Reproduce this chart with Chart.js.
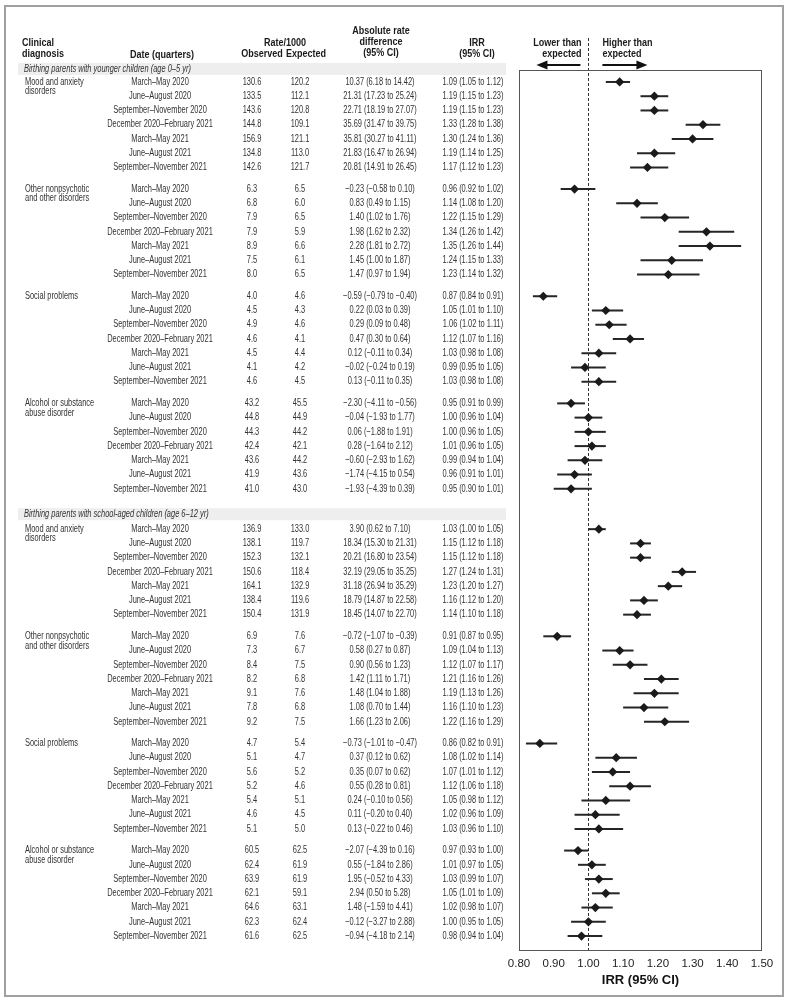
<!DOCTYPE html>
<html>
<head>
<meta charset="utf-8">
<script src="https://cdn.jsdelivr.net/npm/chart.js@4.4.0/dist/chart.umd.min.js"></script>
<style>
  html, body { margin: 0; padding: 0; background: #fff; }
  #wrap { position: relative; width: 791px; height: 1006px; }
</style>
</head>
<body>
<div id="wrap"><canvas id="forest"></canvas></div>
<script>
const quarters = ['March\u2013May 2020', 'June\u2013August 2020', 'September\u2013November 2020',
  'December 2020\u2013February 2021', 'March\u2013May 2021', 'June\u2013August 2021', 'September\u2013November 2021'];
const groupTitles = ['Birthing parents with younger children (age 0\u20135 yr)',
  'Birthing parents with school-aged children (age 6\u201312 yr)'];
const diagnoses = [['Mood and anxiety', 'disorders'], ['Other nonpsychotic', 'and other disorders'],
  ['Social problems'], ['Alcohol or substance', 'abuse disorder']];

// one inner array per block: younger children (4 diagnoses), then school-aged (4 diagnoses)
const observed = [
  [130.6, 133.5, 143.6, 144.8, 156.9, 134.8, 142.6],
  [6.3, 6.8, 7.9, 7.9, 8.9, 7.5, 8.0],
  [4.0, 4.5, 4.9, 4.6, 4.5, 4.1, 4.6],
  [43.2, 44.8, 44.3, 42.4, 43.6, 41.9, 41.0],
  [136.9, 138.1, 152.3, 150.6, 164.1, 138.4, 150.4],
  [6.9, 7.3, 8.4, 8.2, 9.1, 7.8, 9.2],
  [4.7, 5.1, 5.6, 5.2, 5.4, 4.6, 5.1],
  [60.5, 62.4, 63.9, 62.1, 64.6, 62.3, 61.6]
];
const expected = [
  [120.2, 112.1, 120.8, 109.1, 121.1, 113.0, 121.7],
  [6.5, 6.0, 6.5, 5.9, 6.6, 6.1, 6.5],
  [4.6, 4.3, 4.6, 4.1, 4.4, 4.2, 4.5],
  [45.5, 44.9, 44.2, 42.1, 44.2, 43.6, 43.0],
  [133.0, 119.7, 132.1, 118.4, 132.9, 119.6, 131.9],
  [7.6, 6.7, 7.5, 6.8, 7.6, 6.8, 7.5],
  [5.4, 4.7, 5.2, 4.6, 5.1, 4.5, 5.0],
  [62.5, 61.9, 61.9, 59.1, 63.1, 62.4, 62.5]
];
const rateDiff = [
  [10.37, 21.31, 22.71, 35.69, 35.81, 21.83, 20.81],
  [-0.23, 0.83, 1.40, 1.98, 2.28, 1.45, 1.47],
  [-0.59, 0.22, 0.29, 0.47, 0.12, -0.02, 0.13],
  [-2.30, -0.04, 0.06, 0.28, -0.60, -1.74, -1.93],
  [3.90, 18.34, 20.21, 32.19, 31.18, 18.79, 18.45],
  [-0.72, 0.58, 0.90, 1.42, 1.48, 1.08, 1.66],
  [-0.73, 0.37, 0.35, 0.55, 0.24, 0.11, 0.13],
  [-2.07, 0.55, 1.95, 2.94, 1.48, -0.12, -0.94]
];
const diffLow = [
  [6.18, 17.23, 18.19, 31.47, 30.27, 16.47, 14.91],
  [-0.58, 0.49, 1.02, 1.62, 1.81, 1.00, 0.97],
  [-0.79, 0.03, 0.09, 0.30, -0.11, -0.24, -0.11],
  [-4.11, -1.93, -1.88, -1.64, -2.93, -4.15, -4.39],
  [0.62, 15.30, 16.80, 29.05, 26.94, 14.87, 14.07],
  [-1.07, 0.27, 0.56, 1.11, 1.04, 0.70, 1.23],
  [-1.01, 0.12, 0.07, 0.28, -0.10, -0.20, -0.22],
  [-4.39, -1.84, -0.52, 0.50, -1.59, -3.27, -4.18]
];
const diffHigh = [
  [14.42, 25.24, 27.07, 39.75, 41.11, 26.94, 26.45],
  [0.10, 1.15, 1.76, 2.32, 2.72, 1.87, 1.94],
  [-0.40, 0.39, 0.48, 0.64, 0.34, 0.19, 0.35],
  [-0.56, 1.77, 1.91, 2.12, 1.62, 0.54, 0.39],
  [7.10, 21.31, 23.54, 35.25, 35.29, 22.58, 22.70],
  [-0.39, 0.87, 1.23, 1.71, 1.88, 1.44, 2.06],
  [-0.47, 0.62, 0.62, 0.81, 0.56, 0.40, 0.46],
  [0.16, 2.86, 4.33, 5.28, 4.41, 2.88, 2.14]
];
const irr = [
  [1.09, 1.19, 1.19, 1.33, 1.30, 1.19, 1.17],
  [0.96, 1.14, 1.22, 1.34, 1.35, 1.24, 1.23],
  [0.87, 1.05, 1.06, 1.12, 1.03, 0.99, 1.03],
  [0.95, 1.00, 1.00, 1.01, 0.99, 0.96, 0.95],
  [1.03, 1.15, 1.15, 1.27, 1.23, 1.16, 1.14],
  [0.91, 1.09, 1.12, 1.21, 1.19, 1.16, 1.22],
  [0.86, 1.08, 1.07, 1.12, 1.05, 1.02, 1.03],
  [0.97, 1.01, 1.03, 1.05, 1.02, 1.00, 0.98]
];
const irrLow = [
  [1.05, 1.15, 1.15, 1.28, 1.24, 1.14, 1.12],
  [0.92, 1.08, 1.15, 1.26, 1.26, 1.15, 1.14],
  [0.84, 1.01, 1.02, 1.07, 0.98, 0.95, 0.98],
  [0.91, 0.96, 0.96, 0.96, 0.94, 0.91, 0.90],
  [1.00, 1.12, 1.12, 1.24, 1.20, 1.12, 1.10],
  [0.87, 1.04, 1.07, 1.16, 1.13, 1.10, 1.16],
  [0.82, 1.02, 1.01, 1.06, 0.98, 0.96, 0.96],
  [0.93, 0.97, 0.99, 1.01, 0.98, 0.95, 0.94]
];
const irrHigh = [
  [1.12, 1.23, 1.23, 1.38, 1.36, 1.25, 1.23],
  [1.02, 1.20, 1.29, 1.42, 1.44, 1.33, 1.32],
  [0.91, 1.10, 1.11, 1.16, 1.08, 1.05, 1.08],
  [0.99, 1.04, 1.05, 1.05, 1.04, 1.01, 1.01],
  [1.05, 1.18, 1.18, 1.31, 1.27, 1.20, 1.18],
  [0.95, 1.13, 1.17, 1.26, 1.26, 1.23, 1.29],
  [0.91, 1.14, 1.12, 1.18, 1.12, 1.09, 1.10],
  [1.00, 1.05, 1.07, 1.09, 1.07, 1.05, 1.04]
];

// row layout (in row units): gap between diagnoses and between the two groups
const STEP_BLOCK = 1.52, STEP_GROUP = 2.83;
const rows = [];
const blockStart = [];
let pos = 0;
observed.forEach((blk, b) => {
  if (b > 0) pos += (b === 4 ? STEP_GROUP : STEP_BLOCK) - 1;
  blockStart.push(pos);
  blk.forEach((o, q) => {
    rows.push({ b, q, pos });
    pos += 1;
  });
});
const groupPos = [blockStart[0] - 0.91, blockStart[4] - 1.05];

const f1 = v => v.toFixed(1);
const f2 = v => v.toFixed(2).replace('-', '\u2212');

const FONT = '"Liberation Sans", Arial, sans-serif';
const SX = 0.745; // condensed look of the table type

function txt(ctx, s, x, y, align, font, color, sx) {
  ctx.save();
  ctx.font = font;
  ctx.fillStyle = color;
  ctx.textAlign = align;
  ctx.textBaseline = 'middle';
  ctx.translate(x, y);
  ctx.scale(sx, 1);
  ctx.fillText(s, 0, 0);
  ctx.restore();
}

function arrow(ctx, x0, x1, y) {
  const dir = Math.sign(x1 - x0);
  ctx.beginPath();
  ctx.moveTo(x0, y);
  ctx.lineTo(x1 - dir * 6, y);
  ctx.stroke();
  ctx.beginPath();
  ctx.moveTo(x1, y);
  ctx.lineTo(x1 - dir * 11, y - 4.5);
  ctx.lineTo(x1 - dir * 11, y + 4.5);
  ctx.closePath();
  ctx.fill();
}

const tablePlugin = {
  id: 'forestTable',
  beforeDatasetsDraw(chart) {
    const { ctx, chartArea: a, scales: { x, y } } = chart;
    const x1 = x.getPixelForValue(1);
    ctx.save();
    ctx.strokeStyle = '#333';
    ctx.lineWidth = 1;
    ctx.setLineDash([3, 2]);
    ctx.beginPath();
    ctx.moveTo(Math.round(x1) + 0.5, 38);
    ctx.lineTo(Math.round(x1) + 0.5, a.bottom);
    ctx.stroke();
    ctx.setLineDash([]);
    ctx.strokeStyle = '#555';
    ctx.strokeRect(Math.round(a.left) + 0.5, Math.round(a.top) + 0.5, Math.round(a.width) - 1, Math.round(a.height));
    // confidence intervals
    ctx.strokeStyle = '#262626';
    ctx.lineWidth = 2;
    rows.forEach(r => {
      const py = y.getPixelForValue(r.pos);
      ctx.beginPath();
      ctx.moveTo(x.getPixelForValue(irrLow[r.b][r.q]), py);
      ctx.lineTo(x.getPixelForValue(irrHigh[r.b][r.q]), py);
      ctx.stroke();
    });
    ctx.restore();
  },
  afterDraw(chart) {
    const { ctx, scales: { x, y } } = chart;
    const x1 = x.getPixelForValue(1);
    const body = '10px ' + FONT;
    const bold = 'bold 11px ' + FONT;
    const ink = '#333';
    const head = '#1a1a1a';

    // column headers
    txt(ctx, 'Clinical', 22, 43, 'left', bold, head, 0.82);
    txt(ctx, 'diagnosis', 22, 54, 'left', bold, head, 0.82);
    txt(ctx, 'Date (quarters)', 162, 55, 'center', bold, head, 0.82);
    txt(ctx, 'Rate/1000', 285, 43, 'center', bold, head, 0.82);
    txt(ctx, 'Observed', 262, 54, 'center', bold, head, 0.82);
    txt(ctx, 'Expected', 306, 54, 'center', bold, head, 0.82);
    txt(ctx, 'Absolute rate', 381, 31, 'center', bold, head, 0.82);
    txt(ctx, 'difference', 381, 42, 'center', bold, head, 0.82);
    txt(ctx, '(95% CI)', 381, 53, 'center', bold, head, 0.82);
    txt(ctx, 'IRR', 477, 43, 'center', bold, head, 0.82);
    txt(ctx, '(95% CI)', 477, 54, 'center', bold, head, 0.82);
    txt(ctx, 'Lower than', x1 - 7, 43, 'right', bold, head, 0.82);
    txt(ctx, 'expected', x1 - 7, 54, 'right', bold, head, 0.82);
    txt(ctx, 'Higher than', x1 + 14, 43, 'left', bold, head, 0.82);
    txt(ctx, 'expected', x1 + 14, 54, 'left', bold, head, 0.82);

    ctx.save();
    ctx.strokeStyle = '#111';
    ctx.fillStyle = '#111';
    ctx.lineWidth = 2;
    arrow(ctx, x1 - 8, x1 - 52, 65);
    arrow(ctx, x1 + 14, x1 + 59, 65);
    ctx.restore();

    // group bands
    groupPos.forEach((gp, g) => {
      const py = y.getPixelForValue(gp);
      ctx.fillStyle = '#eeeeee';
      ctx.fillRect(18, py - 6, 488, 12);
      txt(ctx, groupTitles[g], 24, py, 'left', 'italic 10px ' + FONT, ink, SX);
    });

    // diagnosis labels
    blockStart.forEach((bp, b) => {
      const py = y.getPixelForValue(bp);
      diagnoses[b % 4].forEach((line, i) => {
        txt(ctx, line, 25, py + i * 9.5, 'left', body, ink, SX);
      });
    });

    // table rows
    rows.forEach(r => {
      const py = y.getPixelForValue(r.pos);
      const b = r.b, q = r.q;
      txt(ctx, quarters[q], 160, py, 'center', body, ink, SX);
      txt(ctx, f1(observed[b][q]), 252, py, 'center', body, ink, SX);
      txt(ctx, f1(expected[b][q]), 300, py, 'center', body, ink, SX);
      txt(ctx, f2(rateDiff[b][q]) + ' (' + f2(diffLow[b][q]) + ' to ' + f2(diffHigh[b][q]) + ')', 380, py, 'center', body, ink, SX);
      txt(ctx, f2(irr[b][q]) + ' (' + f2(irrLow[b][q]) + ' to ' + f2(irrHigh[b][q]) + ')', 473, py, 'center', body, ink, SX);
    });

    // outer frame
    ctx.save();
    ctx.strokeStyle = '#a0a0a0';
    ctx.lineWidth = 2;
    ctx.strokeRect(5, 6, 778, 990);
    ctx.restore();
  }
};

new Chart(document.getElementById('forest'), {
  type: 'scatter',
  data: {
    datasets: [{
      data: rows.map(r => ({ x: irr[r.b][r.q], y: r.pos })),
      pointStyle: 'rectRot',
      pointRadius: 4.6,
      pointBackgroundColor: '#1a1a1a',
      pointBorderColor: '#1a1a1a',
      pointBorderWidth: 0,
      showLine: false
    }]
  },
  options: {
    responsive: true,
    maintainAspectRatio: false,
    animation: false,
    layout: { padding: { left: 519, right: 29, top: 70, bottom: 6 } },
    plugins: { legend: { display: false }, tooltip: { enabled: false } },
    scales: {
      x: {
        type: 'linear',
        min: 0.8,
        max: 1.5,
        grid: { display: false, drawTicks: false },
        border: { display: false },
        ticks: {
          stepSize: 0.1,
          padding: 7,
          color: '#222',
          font: { family: FONT, size: 11.5 },
          callback: v => v.toFixed(2)
        },
        title: {
          display: true,
          text: 'IRR (95% CI)',
          color: '#111',
          font: { family: FONT, size: 13, weight: 'bold' },
          padding: { top: 0, bottom: 12 }
        },
        afterFit: s => { s.height = 50; }
      },
      y: {
        type: 'linear',
        display: false,
        reverse: true,
        min: -0.84,
        max: rows[rows.length - 1].pos + 0.98
      }
    }
  },
  plugins: [tablePlugin]
});
</script>
</body>
</html>
